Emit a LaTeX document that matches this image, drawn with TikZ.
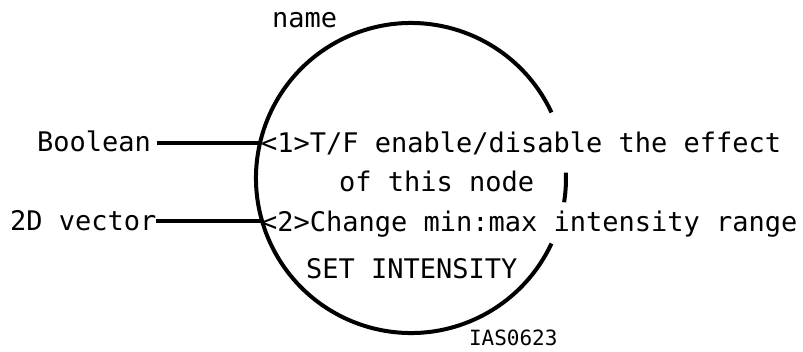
\documentclass[tikz,border=0pt]{standalone}
\usepackage{fontspec}
\setmonofont{DejaVu Sans Mono}
\usepackage{tikz}

\tikzset{
  txt/.style={inner sep=0pt, outer sep=0pt, font=\ttfamily\fontsize{27}{32}\selectfont},
  smalltxt/.style={inner sep=0pt, outer sep=0pt, font=\ttfamily\fontsize{21}{25}\selectfont},
  ring/.style={draw=black, line width=4pt},
  wire/.style={draw=black, line width=3.8pt}
}

\begin{document}
\begin{tikzpicture}[x=1pt, y=1pt]
\useasboundingbox (0,0) rectangle (803,351);
\node[circle, minimum size=310pt, inner sep=0pt, outer sep=0pt] (SetIntensity) at (411,173) {};
\draw[ring] (SetIntensity.25) arc[start angle=25, end angle=335, radius=155pt];
\draw[ring] (SetIntensity.2) arc[start angle=2, end angle=-9, radius=155pt];
\node[txt, anchor=base west] (SetIntensityName) at (272,323) {name};
\node[txt, anchor=base east] (SetIntensityIn1) at (151,199) {Boolean};
\node[txt, anchor=base west] (SetIntensityIn2) at (10,121) {2D vector};
\node[txt, anchor=base west] (SetIntensityP1) at (261,198) {<1>T/F enable/disable the effect};
\node[txt, anchor=base west] (SetIntensityP1b) at (339,159) {of this node};
\node[txt, anchor=base west] (SetIntensityP2) at (261,119) {<2>Change min:max intensity range};
\node[txt, anchor=base west] (SetIntensityTitle) at (306,73) {SET INTENSITY};
\node[smalltxt, anchor=base west] (SetIntensityId) at (469,6) {IAS0623};
\draw[wire, shorten <=6pt] (SetIntensity.167 -| SetIntensityIn1.east) -- (SetIntensity.167);
\draw[wire] (SetIntensity.196 -| SetIntensityIn2.east) -- (SetIntensity.196);
\end{tikzpicture}
\end{document}
